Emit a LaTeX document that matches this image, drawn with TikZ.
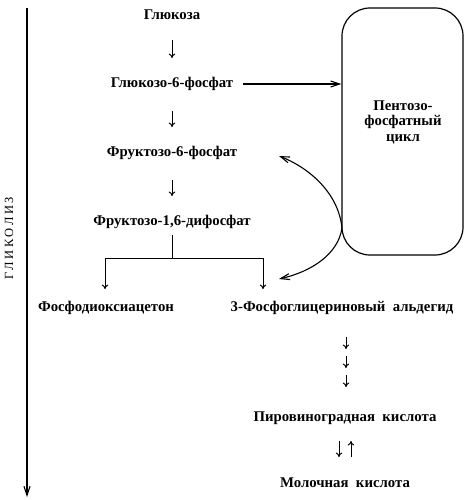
\documentclass[tikz,border=0pt]{standalone}
\usepackage{fontspec}
\setmainfont{Liberation Serif}
\usetikzlibrary{arrows.meta,calc}
\begin{document}
\begin{tikzpicture}[x=1pt,y=-1pt,
  lbl/.style={inner sep=0pt,font=\bfseries\fontsize{14.8}{16}\selectfont},
  smallarr/.style={-{To[length=4.5pt,width=6.5pt]},line width=1pt},
  barb/.style={-{Straight Barb[length=9pt,width=6pt]},line width=1.1pt},
  cyclebox/.style={draw,line width=1.2pt,rounded corners=28pt,minimum width=121pt,minimum height=247pt,inner sep=0pt}]
\useasboundingbox (0,0) rectangle (467,500);
\node[lbl] (g1) at (172,15) {Глюкоза};
\node[lbl] (g2) at (172,84) {Глюкозо-6-фосфат};
\node[lbl] (f6) at (172,153) {Фруктозо-6-фосфат};
\node[lbl] (f16) at (172,222) {Фруктозо-1,6-дифосфат};
\node[lbl] (pda) at (106,308) {Фосфодиоксиацетон};
\node[lbl] (gal) at (342,308) {3-Фосфоглицериновый\ \ альдегид};
\node[lbl] (pvk) at (345,418) {Пировиноградная\ \ кислота};
\node[lbl] (lac) at (345,483) {Молочная\ \ кислота};
\node[cyclebox] (box) at (402.5,131.5) {};
\node[lbl,align=center,font=\bfseries\fontsize{14.8}{15.5}\selectfont] (boxt) at (403,122) {Пентозо-\\фосфатный\\цикл};
\node[inner sep=0pt,rotate=90,font=\fontsize{12.5}{14}\selectfont] (gl) at (9,238.5) {Г\hspace{2.4pt}Л\hspace{2.4pt}И\hspace{2.4pt}К\hspace{2.4pt}О\hspace{2.4pt}Л\hspace{2.4pt}И\hspace{2.4pt}З};
% axis
\coordinate (ax1) at (27,8);
\coordinate (ax2) at (27,497);
\draw[barb] (ax1) -- (ax2);
% short arrows
\draw[smallarr] ($(g1.south)+(0,20)$) -- ($(g2.north)+(0,-19)$);
\draw[smallarr] ($(g2.south)+(0,20)$) -- ($(f6.north)+(0,-19)$);
\draw[smallarr] ($(f6.south)+(0,20)$) -- ($(f16.north)+(0,-19)$);
% branch
\coordinate (br) at (172,258);
\coordinate (brl) at (105,258);
\coordinate (brr) at (263,258);
\draw[line width=1pt] ($(f16.south)+(0,6)$) -- (br);
\draw[line width=1pt] (brl) -- (brr);
\draw[smallarr] (brl) -- ($(brl|-pda.north)+(0,-12)$);
\draw[smallarr] (brr) -- ($(brr|-gal.north)+(0,-12)$);
% triple arrows
\coordinate (t0) at (346,337);
\draw[smallarr] (t0) -- ++(0,12);
\draw[smallarr] ($(t0)+(0,19)$) -- ++(0,12);
\draw[smallarr] ($(t0)+(0,38)$) -- ++(0,12);
% reversible
\draw[smallarr] (339,441) -- (339,457);
\draw[smallarr] (351,457) -- (351,441);
% to pentose cycle
\draw[barb] ($(g2.east)+(10,0)$) -- (box.west|-g2);
% curved arrows
\coordinate (touch) at (342,228);
\coordinate (tipu) at (279,156);
\coordinate (tipd) at (279,279);
\draw[barb] (touch) .. controls (338,190) and (305,166) .. (tipu);
\draw[barb] (touch) .. controls (338,255) and (310,272) .. (tipd);
\end{tikzpicture}
\end{document}
